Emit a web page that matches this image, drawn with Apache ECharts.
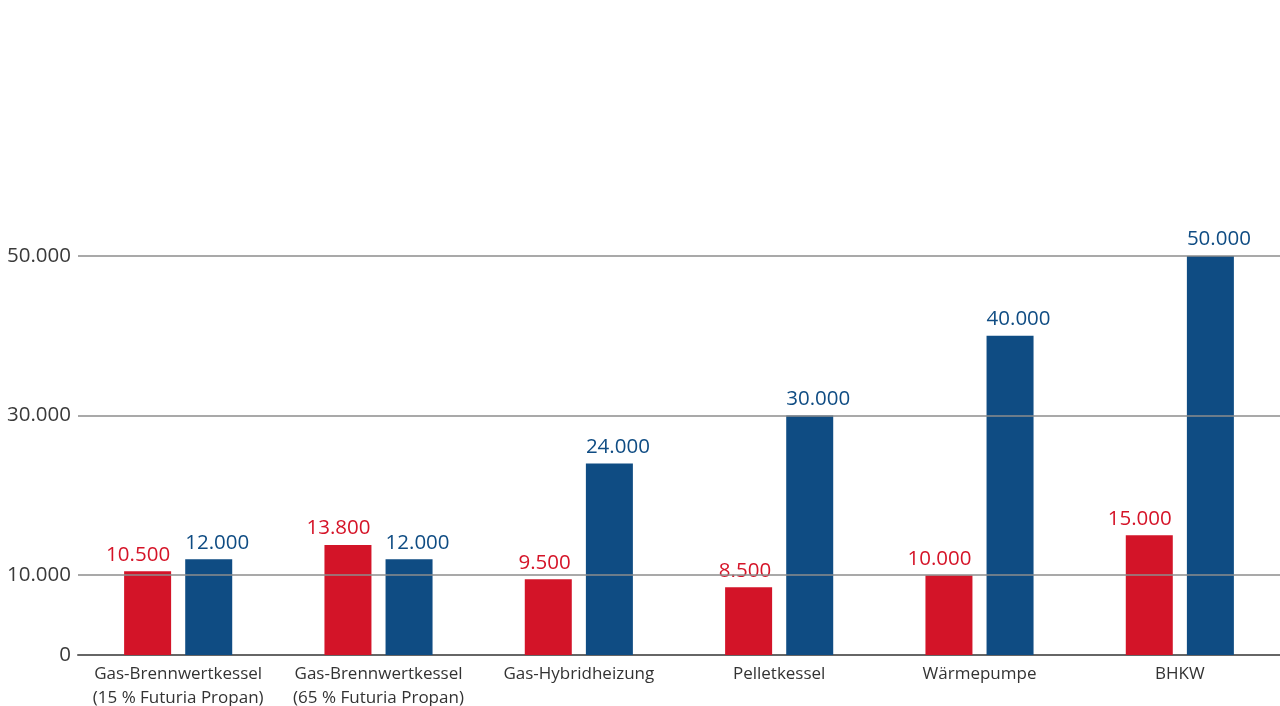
<!DOCTYPE html>
<html>
<head>
<meta charset="utf-8">
<script src="https://cdn.jsdelivr.net/npm/echarts@6/dist/echarts.min.js"></script>
<style>html,body{margin:0;padding:0;background:#fff;}#c{width:1280px;height:706px;}</style>
</head>
<body>
<div id="c"></div>
<script>
const categories = ['Gas-Brennwertkessel\n(15 % Futuria Propan)', 'Gas-Brennwertkessel\n(65 % Futuria Propan)', 'Gas-Hybridheizung', 'Pelletkessel', 'Wärmepumpe', 'BHKW'];
const redValues = [10500, 13800, 9500, 8500, 10000, 15000];
const blueValues = [12000, 12000, 24000, 30000, 40000, 50000];
const yTickLabels = [0, 10000, 30000, 50000];
const gridLineValues = [10000, 30000, 50000];

const FONT = '"Open Sans", "Noto Sans", sans-serif';
const fmt = v => String(v).replace(/\B(?=(\d{3})+(?!\d))/g, '.');

const chart = echarts.init(document.getElementById('c'), null, {renderer: 'canvas'});
chart.setOption({
  animation: false,
  backgroundColor: '#ffffff',
  grid: {left: 78, right: 0, top: 256, bottom: 51, containLabel: false, outerBoundsMode: 'none'},
  xAxis: {
    type: 'category',
    data: categories,
    axisTick: {show: false},
    axisLine: {show: true, lineStyle: {color: '#666666', width: 2}},
    axisLabel: {color: '#333333', fontFamily: FONT, fontSize: 17, fontWeight: 500, lineHeight: 24, margin: 7, interval: 0}
  },
  yAxis: {
    type: 'value',
    min: 0, max: 50000, interval: 10000,
    splitLine: {show: false},
    axisLine: {show: false},
    axisTick: {show: false},
    axisLabel: {
      color: '#3a3a3a', fontFamily: FONT, fontSize: 20.5, fontWeight: 500, margin: 7,
      formatter: v => yTickLabels.indexOf(v) >= 0 ? fmt(v) : ''
    }
  },
  series: [
    {
      type: 'line', data: [], z: 0, silent: true,
      markLine: {
        silent: true, symbol: 'none',
        label: {show: false},
        lineStyle: {color: '#8c8c8c', width: 1.5, type: 'solid'},
        data: gridLineValues.map(v => ({yAxis: v}))
      }
    },
    {
      type: 'bar', data: redValues, barWidth: 47, barGap: '30%', z: 3,
      itemStyle: {color: '#d31428'},
      label: {show: true, position: ['100%', 0], align: 'right', verticalAlign: 'bottom', offset: [-1, -6],
        color: '#d51428', fontFamily: FONT, fontSize: 20.5, fontWeight: 500, formatter: p => fmt(p.value)}
    },
    {
      type: 'bar', data: blueValues, barWidth: 47, z: 3,
      itemStyle: {color: '#0f4c83'},
      label: {show: true, position: [0, 0], align: 'left', verticalAlign: 'bottom', offset: [0, -6],
        color: '#0f4c83', fontFamily: FONT, fontSize: 20.5, fontWeight: 500, formatter: p => fmt(p.value)}
    }
  ]
});
</script>
</body>
</html>
